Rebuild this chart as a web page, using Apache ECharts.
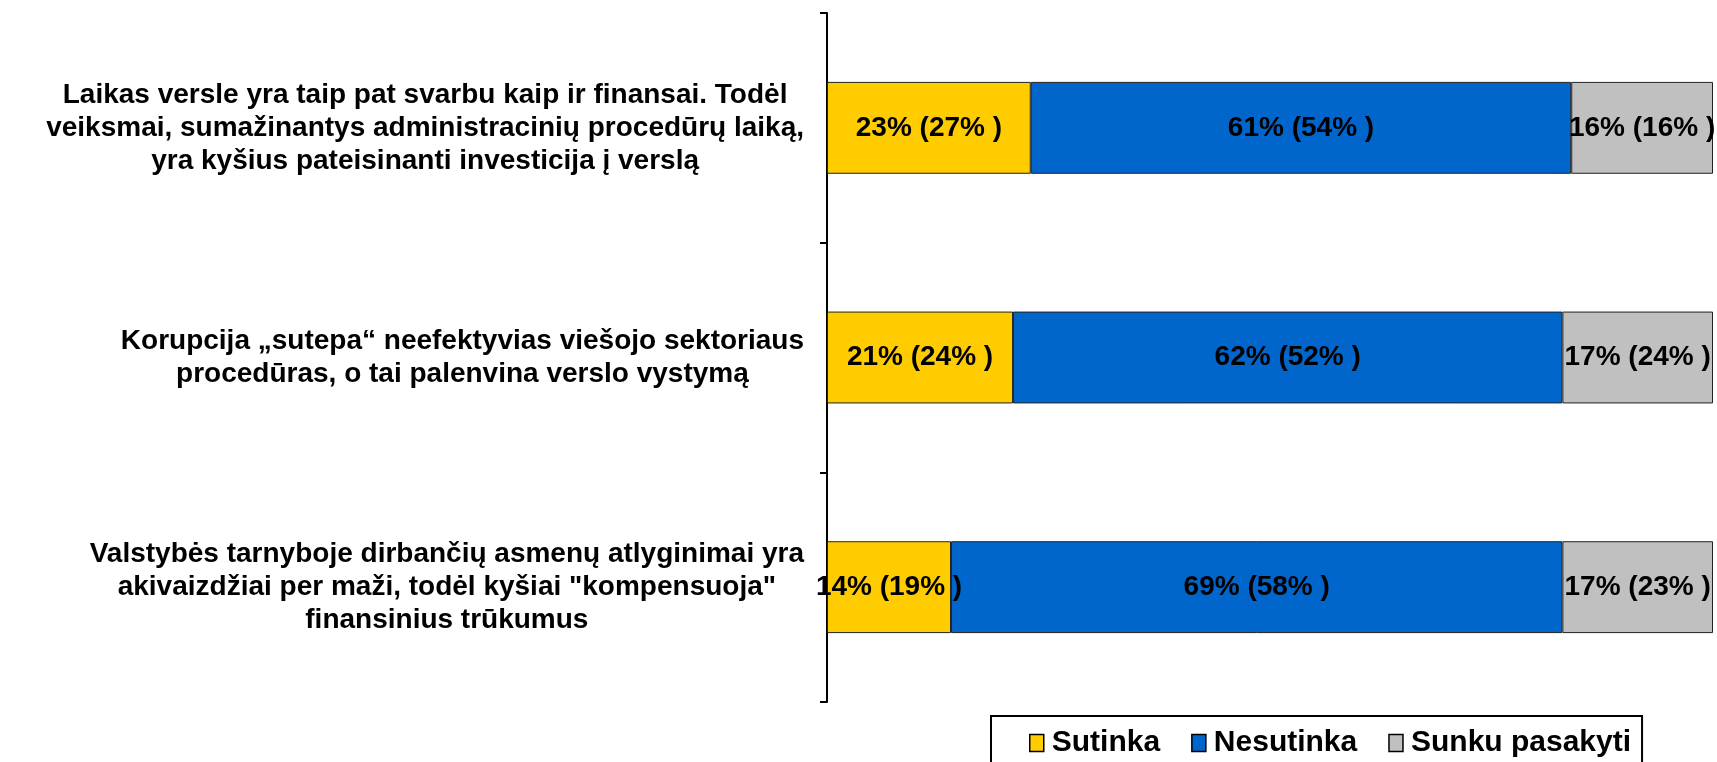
<!DOCTYPE html>
<html>
<head>
<meta charset="utf-8">
<title>Kyšiai ir verslas</title>
<script src="https://cdn.jsdelivr.net/npm/echarts@6/dist/echarts.min.js"></script>
<style>
  html, body { margin: 0; padding: 0; background: #fff; }
  #chart { width: 1717px; height: 762px; }
</style>
</head>
<body>
<div id="chart"></div>
<script>
// teiginiai (kategorijos), eilutės atskirtos \n
var categories = [
  "Laikas versle yra taip pat svarbu kaip ir finansai. Todėl\nveiksmai, sumažinantys administracinių procedūrų laiką,\nyra kyšius pateisinanti investicija į verslą",
  "Korupcija „sutepa“ neefektyvias viešojo sektoriaus\nprocedūras, o tai palenvina verslo vystymą",
  "Valstybės tarnyboje dirbančių asmenų atlyginimai yra\nakivaizdžiai per maži, todėl kyšiai \"kompensuoja\"\nfinansinius trūkumus"
];
var seriesNames = ["Sutinka", "Nesutinka", "Sunku pasakyti"];

// dabartiniai rezultatai, %
var sutinka = [23, 21, 14];
var nesutinka = [61, 62, 69];
var sunku = [16, 17, 17];

// ankstesni rezultatai (skliausteliuose), %
var sutinkaPrev = [27, 24, 19];
var nesutinkaPrev = [54, 52, 58];
var sunkuPrev = [16, 24, 23];

var colors = ["#FFCC00", "#0066CC", "#C0C0C0"];
var font = "'Liberation Sans', Arial, sans-serif";

var chart = echarts.init(document.getElementById("chart"));

function makeSeries(name, values, prev, color) {
  return {
    name: name,
    type: "bar",
    stack: "total",
    barCategoryGap: "60%",
    data: values,
    itemStyle: { color: color, borderColor: "#222", borderWidth: 1 },
    label: {
      show: true,
      position: "inside",
      color: "#000",
      fontFamily: font,
      fontWeight: "bold",
      fontSize: 28,
      formatter: function (p) {
        return p.value + "% (" + prev[p.dataIndex] + "% )";
      }
    }
  };
}

var option = {
  animation: false,
  backgroundColor: "#fff",
  grid: { left: 827, right: 4, top: 13, bottom: 60 },
  xAxis: { type: "value", min: 0, max: 100, show: false },
  yAxis: {
    type: "category",
    inverse: true,
    data: categories,
    axisLine: { show: true, lineStyle: { color: "#000", width: 2 } },
    axisTick: { show: true, length: 7, lineStyle: { color: "#000", width: 2 } },
    axisLabel: {
      align: "right",
      margin: 23,
      // kiekviena eilutė centruojama bloko viduje
      formatter: function (v) {
        return v.split("\n").map(function (s) { return "{c|" + s + "}"; }).join("\n");
      },
      rich: {
        c: {
          align: "center",
          fontFamily: font,
          fontWeight: "bold",
          fontSize: 28,
          lineHeight: 33,
          color: "#000"
        }
      }
    }
  },
  legend: {
    data: seriesNames,
    left: 991,
    top: 716,
    orient: "horizontal",
    icon: "rect",
    padding: [12, 11, 40, 38],
    borderColor: "#000",
    borderWidth: 2,
    itemGap: 31,
    itemWidth: 14,
    itemHeight: 17,
    itemStyle: { borderColor: "#000", borderWidth: 1.5 },
    textStyle: {
      fontFamily: font,
      fontWeight: "bold",
      fontSize: 30,
      color: "#000",
      padding: [0, 0, 0, 3]
    }
  },
  series: [
    makeSeries(seriesNames[0], sutinka, sutinkaPrev, colors[0]),
    makeSeries(seriesNames[1], nesutinka, nesutinkaPrev, colors[1]),
    makeSeries(seriesNames[2], sunku, sunkuPrev, colors[2])
  ]
};

chart.setOption(option);
</script>
</body>
</html>
